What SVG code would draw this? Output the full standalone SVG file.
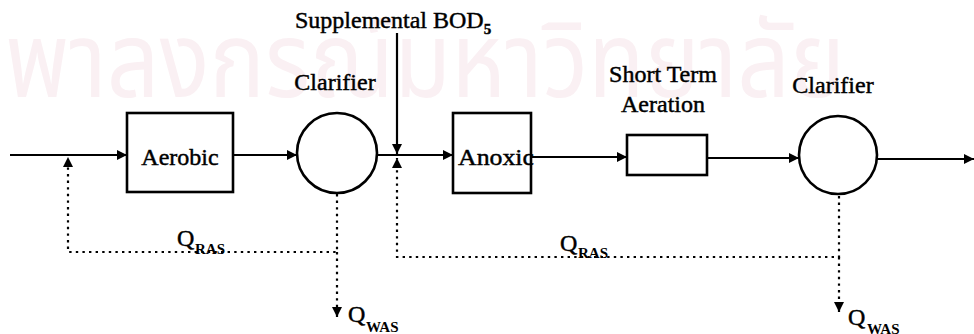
<svg xmlns="http://www.w3.org/2000/svg" width="974" height="334" viewBox="0 0 974 334">
<style>
.t{font-family:"Liberation Serif","Times New Roman",serif;font-size:24px;fill:#000;stroke:#000;stroke-width:0.45}
.sub{font-family:"Liberation Serif","Times New Roman",serif;font-size:15px;font-weight:bold;fill:#000}
.box{fill:#fff;stroke:#000;stroke-width:2.6}
.ln{fill:none;stroke:#000;stroke-width:2.2}
.dot{fill:none;stroke:#000;stroke-width:2.2;stroke-dasharray:2.4 4.2}
.wm{font-family:"Noto Sans Thai","Noto Serif Thai","Loma","Garuda","Norasi","DejaVu Sans",sans-serif;font-size:105px;fill:#faf0f3}
</style>
<defs>
<marker id="ah" viewBox="0 0 10 10" refX="10" refY="5" markerWidth="10" markerHeight="10" markerUnits="userSpaceOnUse" orient="auto">
<path d="M0,0 L10,5 L0,10 z" fill="#000"/>
</marker>
</defs>
<rect width="974" height="334" fill="#fff"/>
<text class="wm" x="5" y="97" textLength="840" lengthAdjust="spacingAndGlyphs">พาลงกรณ์มหาวิทยาลัย</text>

<g id="connectors">
<path class="ln" d="M10,155 H127" marker-end="url(#ah)"/>
<path class="ln" d="M233,155 H297" marker-end="url(#ah)"/>
<path class="ln" d="M377,155 H453" marker-end="url(#ah)"/>
<path class="ln" d="M397,33 V154" marker-end="url(#ah)"/>
<path class="ln" d="M531,157 H627" marker-end="url(#ah)"/>
<path class="ln" d="M707,158 H799" marker-end="url(#ah)"/>
<path class="ln" d="M877,159 H974" marker-end="url(#ah)"/>
<path class="dot" d="M337,194 V252 H68 V157" marker-end="url(#ah)"/>
<path class="ln" d="M337,307 V317" marker-end="url(#ah)"/>
<path class="dot" d="M337,252 V309"/>
<path class="dot" d="M839,196 V257 H397 V158" marker-end="url(#ah)"/>
<path class="dot" d="M839,257 V304"/>
<path class="ln" d="M839,302 V312" marker-end="url(#ah)"/>
</g>

<g id="aerobic">
<rect class="box" x="127" y="113" width="106" height="79"/>
<text class="t" x="180" y="165" text-anchor="middle">Aerobic</text>
</g>
<g id="clarifier1">
<circle class="box" cx="337" cy="153" r="40"/>
<text class="t" x="335" y="90" text-anchor="middle">Clarifier</text>
</g>
<g id="anoxic">
<rect class="box" x="453" y="113" width="78" height="80"/>
<text class="t" x="458" y="165" textLength="76" lengthAdjust="spacingAndGlyphs">Anoxic</text>
</g>
<g id="shortterm">
<rect class="box" x="627" y="135" width="80" height="40"/>
<text class="t" x="663" y="82" text-anchor="middle">Short Term</text>
<text class="t" x="663" y="112" text-anchor="middle">Aeration</text>
</g>
<g id="clarifier2">
<circle class="box" cx="838" cy="155" r="39"/>
<text class="t" x="833" y="93" text-anchor="middle">Clarifier</text>
</g>
<g id="labels">
<text class="t" x="295" y="28">Supplemental BOD<tspan class="sub" font-weight="normal" font-size="14" dy="6">5</tspan></text>
<text class="t" x="177" y="246">Q</text><text class="sub" x="195" y="254">RAS</text>
<text class="t" x="560" y="251">Q</text><text class="sub" x="578" y="258">RAS</text>
<text class="t" x="348" y="322">Q</text><text class="sub" x="366" y="332">WAS</text>
<text class="t" x="848" y="325">Q</text><text class="sub" x="867" y="334">WAS</text>
</g>
</svg>
